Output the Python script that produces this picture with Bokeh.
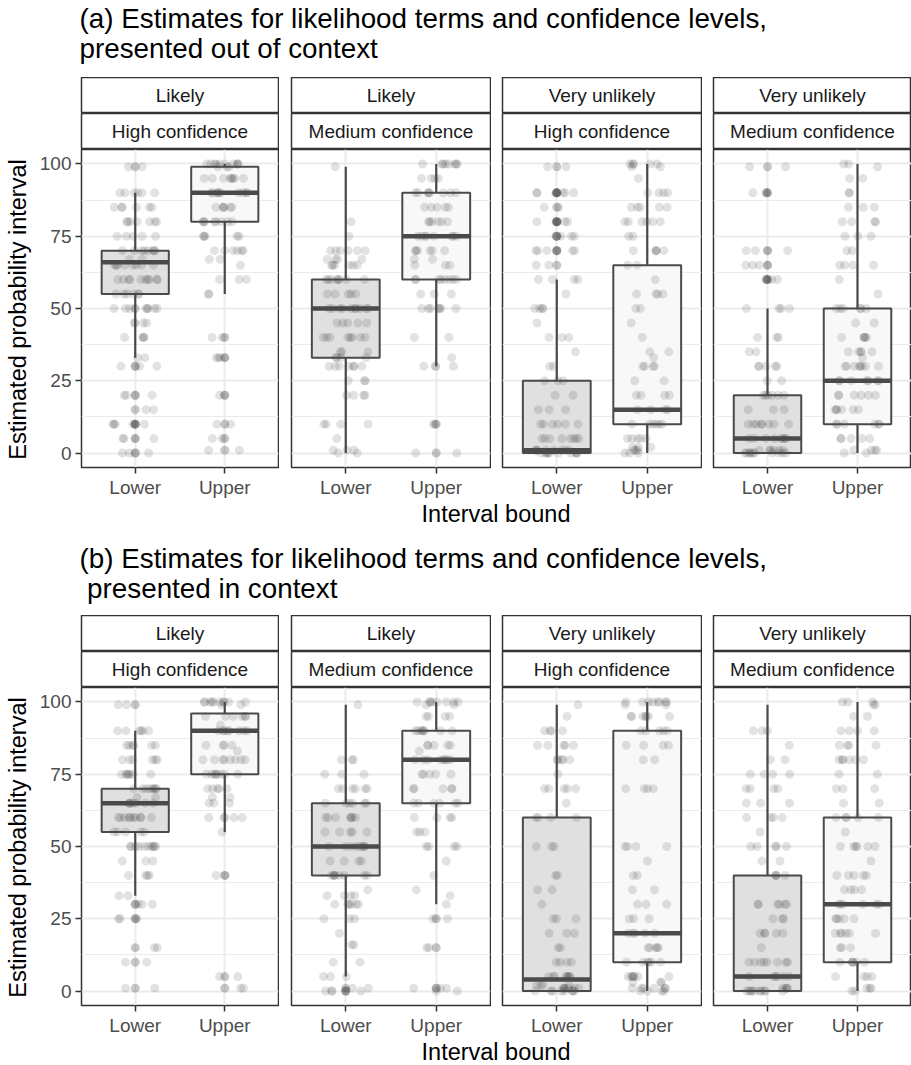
from bokeh.plotting import figure
from bokeh.layouts import column, row
from bokeh.models import Range1d, FixedTicker, ColumnDataSource
from bokeh.transform import jitter, dodge
from bokeh.core.properties import value
from bokeh.embed import file_html
from bokeh.resources import INLINE
import math

FONT = "Liberation Sans"

# ---------------- data ----------------
TERMS = ["Likely", "Likely", "Very unlikely", "Very unlikely"]
CONFIDENCE = ["High confidence", "Medium confidence", "High confidence", "Medium confidence"]
BOUNDS = ["Lower", "Upper"]
Y_TICKS = [0, 25, 50, 75, 100]
Y_MINOR = [12.5, 37.5, 62.5, 87.5]
TITLE_A = ["(a) Estimates for likelihood terms and confidence levels,", "presented out of context"]
TITLE_B = ["(b) Estimates for likelihood terms and confidence levels,", "presented in context"]
Y_TITLE = "Estimated probability interval"
X_TITLE = "Interval bound"

# box statistics per panel: [Lower, Upper]
A_Q1 = [[55, 80], [33, 60], [0, 10], [0, 10]]
A_MED = [[66, 90], [50, 75], [1, 15], [5, 25]]
A_Q3 = [[70, 99], [60, 90], [25, 65], [20, 50]]
A_WLO = [[33, 55], [0, 30], [0, 0], [0, 0]]
A_WHI = [[90, 100], [99, 100], [60, 100], [50, 100]]

B_Q1 = [[55, 75], [40, 65], [0, 10], [0, 10]]
B_MED = [[65, 90], [50, 80], [4, 20], [5, 30]]
B_Q3 = [[70, 96], [65, 90], [60, 90], [40, 60]]
B_WLO = [[33, 55], [5, 30], [0, 0], [0, 0]]
B_WHI = [[90, 100], [99, 100], [99, 100], [99, 100]]

# individual responses: values and how many respondents gave them
A1_LOWER_V = [99, 90, 85, 80, 75, 70, 67, 65, 60, 55, 50, 45, 40, 33, 30, 20, 15, 10, 5, 0]
A1_LOWER_N = [2, 6, 6, 7, 5, 8, 2, 8, 10, 6, 10, 4, 4, 2, 3, 3, 2, 5, 3, 3]
A1_UPPER_V = [100, 99, 95, 90, 85, 80, 75, 70, 67, 65, 60, 55, 40, 33, 20, 10, 5, 1]
A1_UPPER_N = [10, 3, 8, 10, 6, 8, 5, 6, 2, 1, 3, 2, 2, 3, 2, 2, 2, 2]
A2_LOWER_V = [99, 80, 75, 70, 67, 65, 60, 55, 50, 45, 40, 35, 33, 30, 25, 20, 10, 5, 1, 0]
A2_LOWER_N = [1, 1, 1, 6, 4, 6, 8, 5, 10, 5, 8, 3, 4, 7, 3, 4, 4, 1, 3, 2]
A2_UPPER_V = [100, 95, 90, 85, 80, 75, 70, 67, 65, 60, 55, 50, 40, 33, 30, 10, 0]
A2_UPPER_N = [8, 4, 8, 5, 6, 8, 6, 2, 3, 8, 3, 7, 2, 1, 4, 2, 2]
A3_LOWER_V = [99, 90, 85, 80, 75, 70, 65, 60, 55, 50, 45, 40, 35, 30, 25, 20, 15, 10, 5, 1, 0]
A3_LOWER_N = [2, 6, 2, 5, 4, 5, 2, 4, 1, 4, 1, 3, 1, 2, 3, 2, 3, 6, 8, 8, 10]
A3_UPPER_V = [100, 99, 95, 90, 85, 80, 75, 70, 65, 60, 55, 50, 45, 40, 35, 33, 30, 25, 20, 15, 10, 5, 2, 1, 0]
A3_UPPER_N = [5, 2, 1, 4, 5, 6, 2, 5, 2, 1, 4, 2, 1, 1, 2, 1, 4, 2, 4, 4, 6, 5, 3, 3, 3]
A4_LOWER_V = [99, 90, 70, 65, 60, 50, 40, 35, 30, 25, 20, 15, 10, 5, 1, 0]
A4_LOWER_N = [2, 3, 3, 3, 4, 4, 3, 2, 5, 2, 6, 3, 8, 8, 6, 10]
A4_UPPER_V = [100, 99, 95, 90, 85, 80, 75, 70, 65, 60, 55, 50, 45, 40, 35, 33, 30, 25, 20, 15, 10, 5, 1, 0]
A4_UPPER_N = [2, 1, 2, 2, 3, 4, 3, 2, 4, 1, 1, 6, 2, 5, 5, 1, 8, 7, 6, 6, 6, 5, 4, 2]

B1_LOWER_V = [99, 90, 85, 80, 75, 70, 67, 65, 60, 55, 50, 45, 40, 33, 30, 25, 15, 10, 1]
B1_LOWER_N = [2, 6, 6, 6, 7, 8, 2, 7, 10, 5, 10, 3, 4, 2, 3, 3, 2, 2, 2]
B1_UPPER_V = [100, 99, 95, 92, 90, 85, 83, 80, 75, 70, 67, 65, 60, 55, 40, 5, 1]
B1_UPPER_N = [10, 2, 6, 1, 8, 4, 1, 8, 8, 5, 2, 3, 5, 1, 2, 2, 2]
B2_LOWER_V = [99, 80, 75, 70, 65, 60, 55, 50, 45, 40, 35, 33, 30, 25, 20, 16, 10, 5, 1, 0]
B2_LOWER_N = [1, 3, 3, 6, 6, 7, 5, 8, 4, 8, 1, 4, 6, 3, 1, 2, 2, 3, 2, 4]
B2_UPPER_V = [100, 99, 95, 90, 85, 83, 80, 75, 70, 65, 60, 55, 50, 45, 40, 35, 33, 30, 25, 15, 1, 0]
B2_UPPER_N = [8, 2, 4, 8, 5, 1, 8, 5, 5, 6, 4, 3, 4, 1, 1, 1, 1, 1, 2, 2, 3, 1]
B3_LOWER_V = [99, 95, 90, 85, 80, 75, 70, 65, 60, 50, 40, 35, 30, 25, 20, 15, 10, 5, 2, 1, 0]
B3_LOWER_N = [1, 1, 4, 5, 5, 1, 5, 1, 4, 3, 2, 2, 1, 3, 3, 2, 4, 8, 4, 6, 8]
B3_UPPER_V = [100, 99, 95, 90, 85, 80, 70, 50, 45, 40, 35, 30, 25, 20, 15, 10, 5, 3, 1, 0]
B3_UPPER_N = [8, 2, 7, 5, 4, 2, 4, 4, 1, 2, 2, 3, 3, 5, 5, 6, 7, 3, 6, 4]
B4_LOWER_V = [90, 85, 80, 75, 70, 65, 60, 55, 50, 45, 40, 30, 25, 20, 15, 10, 5, 1, 0]
B4_LOWER_N = [3, 1, 2, 4, 4, 3, 4, 1, 5, 2, 4, 6, 3, 5, 1, 8, 6, 4, 10]
B4_UPPER_V = [100, 99, 95, 90, 85, 80, 75, 70, 65, 60, 55, 50, 45, 40, 35, 30, 25, 20, 15, 10, 5, 1, 0]
B4_UPPER_N = [3, 2, 2, 4, 4, 6, 2, 3, 2, 5, 1, 6, 1, 5, 4, 6, 5, 6, 3, 6, 4, 3, 2]

A_POINTS = [
    [(A1_LOWER_V, A1_LOWER_N), (A1_UPPER_V, A1_UPPER_N)],
    [(A2_LOWER_V, A2_LOWER_N), (A2_UPPER_V, A2_UPPER_N)],
    [(A3_LOWER_V, A3_LOWER_N), (A3_UPPER_V, A3_UPPER_N)],
    [(A4_LOWER_V, A4_LOWER_N), (A4_UPPER_V, A4_UPPER_N)],
]
B_POINTS = [
    [(B1_LOWER_V, B1_LOWER_N), (B1_UPPER_V, B1_UPPER_N)],
    [(B2_LOWER_V, B2_LOWER_N), (B2_UPPER_V, B2_UPPER_N)],
    [(B3_LOWER_V, B3_LOWER_N), (B3_UPPER_V, B3_UPPER_N)],
    [(B4_LOWER_V, B4_LOWER_N), (B4_UPPER_V, B4_UPPER_N)],
]

# ---------------- style / geometry ----------------
BORDER = "#333333"
BOX_LINE = "#4A4A4A"
FILLS = ["#E0E0E0", "#F8F8F8"]
GRID = "#EBEBEB"
PT_ALPHA = 0.115

FRAME_H = 320
BOTTOM = 31
STRIP_H = 36
YLAB_W = 36
# per column: (left gap, frame width, right border)
COLS = [(43, 199, 1), (12, 199, 1), (11, 199, 1), (11, 198, 0)]
TOTAL_W = YLAB_W + sum(a + b + c for a, b, c in COLS)
PANEL_X0 = YLAB_W + COLS[0][0]
PANEL_X1 = TOTAL_W


def blank(w, h, left=0, right=0, xr=(0, 1), yr=(0, 1)):
    f = figure(width=w, height=h, x_range=Range1d(*xr), y_range=Range1d(*yr),
               x_axis_location=None, y_axis_location=None,
               min_border_left=left, min_border_right=right,
               min_border_top=0, min_border_bottom=0,
               output_backend="svg", toolbar_location=None)
    f.xgrid.visible = False
    f.ygrid.visible = False
    f.outline_line_color = None
    f.background_fill_color = "white"
    f.border_fill_color = "white"
    return f


def strip(label, left, fw, right):
    s = blank(left + fw + right, STRIP_H, left=left, right=right)
    s.outline_line_color = BORDER
    s.outline_line_width = 1.5
    s.text(x=[0.5], y=[0.5], text=[label], text_align="center", text_baseline="middle",
           text_font=value(FONT), text_font_size=value("19px"), text_color="#1A1A1A")
    return s


def expand(vals, counts):
    out = []
    for v, n in zip(vals, counts):
        out += [v] * n
    return out


def panel(k, q1, med, q3, wlo, whi, pts, left, fw, right):
    show_y = (k == 0)
    p = figure(width=left + fw + right, height=FRAME_H + BOTTOM,
               x_range=Range1d(0.4, 2.6), y_range=Range1d(-5, 105),
               y_axis_location="left" if show_y else None,
               min_border_left=left, min_border_right=right,
               min_border_top=0, min_border_bottom=BOTTOM,
               output_backend="svg", toolbar_location=None)
    p.background_fill_color = "white"
    p.border_fill_color = "white"
    p.outline_line_color = BORDER
    p.outline_line_width = 1.5

    xt = FixedTicker(ticks=[1, 2])
    yt = FixedTicker(ticks=Y_TICKS, minor_ticks=Y_MINOR)
    p.xaxis.ticker = xt
    p.xgrid.ticker = xt
    p.ygrid.ticker = yt
    p.xaxis.major_label_overrides = {1: BOUNDS[0], 2: BOUNDS[1]}
    p.xgrid.grid_line_color = GRID
    p.xgrid.grid_line_width = 2
    p.ygrid.grid_line_color = GRID
    p.ygrid.grid_line_width = 2
    p.ygrid.minor_grid_line_color = GRID
    p.ygrid.minor_grid_line_width = 1

    axes = [p.xaxis[0]]
    if show_y:
        p.yaxis.ticker = yt
        axes.append(p.yaxis[0])
    for ax in axes:
        ax.axis_line_color = None
        ax.major_tick_out = 6
        ax.major_tick_in = 0
        ax.major_tick_line_color = BORDER
        ax.major_tick_line_width = 1.5
        ax.minor_tick_line_color = None
        ax.major_label_text_font = FONT
        ax.major_label_text_font_size = "19px"
        ax.major_label_text_color = "#4D4D4D"
    p.xaxis.major_label_standoff = 3
    if show_y:
        p.yaxis.major_label_standoff = 4

    box = ColumnDataSource(dict(x=[1, 2], q1=q1, med=med, q3=q3, wlo=wlo, whi=whi, fill=FILLS))
    xs, ys, ox, oy = [], [], [], []
    for b in range(2):
        vals = expand(*pts[b])
        xs += [b + 1] * len(vals)
        ys += vals
        for v in vals:
            if v < wlo[b] or v > whi[b]:
                ox.append(b + 1)
                oy.append(v)
    pts_src = ColumnDataSource(dict(x=xs, y=ys))
    out_src = ColumnDataSource(dict(x=ox, y=oy))

    p.vbar(x="x", width=0.75, bottom="q1", top="q3", fill_color="fill", line_color=None, source=box)
    p.scatter(x=jitter("x", width=0.5), y="y", size=9, fill_color="black", fill_alpha=PT_ALPHA,
              line_color=None, source=pts_src)
    p.scatter(x="x", y="y", size=9, fill_color="black", fill_alpha=PT_ALPHA,
              line_color=None, source=out_src)
    p.segment(x0="x", y0="q3", x1="x", y1="whi", line_color=BOX_LINE, line_width=2.2, source=box)
    p.segment(x0="x", y0="q1", x1="x", y1="wlo", line_color=BOX_LINE, line_width=2.2, source=box)
    p.vbar(x="x", width=0.75, bottom="q1", top="q3", fill_color=None, line_color=BOX_LINE,
           line_width=2, source=box)
    p.segment(x0=dodge("x", -0.375), y0="med", x1=dodge("x", 0.375), y1="med",
              line_color=BOX_LINE, line_width=4.5, source=box)
    return p


def section(title_lines, title_h, mid1, mid2, indent2, q1s, meds, q3s, wlos, whis, points,
            xlab_h, xlab_mid):
    t = blank(TOTAL_W, title_h, xr=(0, TOTAL_W), yr=(title_h, 0))
    t.text(x=[PANEL_X0, PANEL_X0 + indent2], y=[mid1, mid2], text=title_lines, text_align="left",
           text_baseline="middle", text_font=value(FONT),
           text_font_size=value("27.8px"), text_color="black")

    row_h = 2 * STRIP_H + FRAME_H + BOTTOM
    yl = blank(YLAB_W, row_h, xr=(0, YLAB_W), yr=(row_h, 0))
    yl.text(x=[17], y=[2 * STRIP_H + FRAME_H / 2], text=[Y_TITLE], angle=math.pi / 2,
            text_align="center", text_baseline="middle", text_font=value(FONT),
            text_font_size=value("23.5px"), text_color="black")

    cols = [yl]
    for k in range(4):
        left, fw, right = COLS[k]
        cols.append(column(
            strip(TERMS[k], left, fw, right),
            strip(CONFIDENCE[k], left, fw, right),
            panel(k, q1s[k], meds[k], q3s[k], wlos[k], whis[k], points[k], left, fw, right),
            spacing=0))

    xl = blank(TOTAL_W, xlab_h, xr=(0, TOTAL_W), yr=(xlab_h, 0))
    centre = (PANEL_X0 + PANEL_X1 + 1) / 2
    xl.text(x=[centre], y=[xlab_mid], text=[X_TITLE], text_align="center",
            text_baseline="middle", text_font=value(FONT),
            text_font_size=value("23.5px"), text_color="black")
    return column(t, row(*cols, spacing=0), xl, spacing=0)


sec_a = section(TITLE_A, 77, 18, 48, 0, A_Q1, A_MED, A_Q3, A_WLO, A_WHI, A_POINTS, 30, 13.5)
sec_b = section(TITLE_B, 85, 28, 58, 7.6, B_Q1, B_MED, B_Q3, B_WLO, B_WHI, B_POINTS, 27, 13.5)
layout = column(sec_a, sec_b, spacing=0)

open("out.html", "w").write(file_html(layout, INLINE))
